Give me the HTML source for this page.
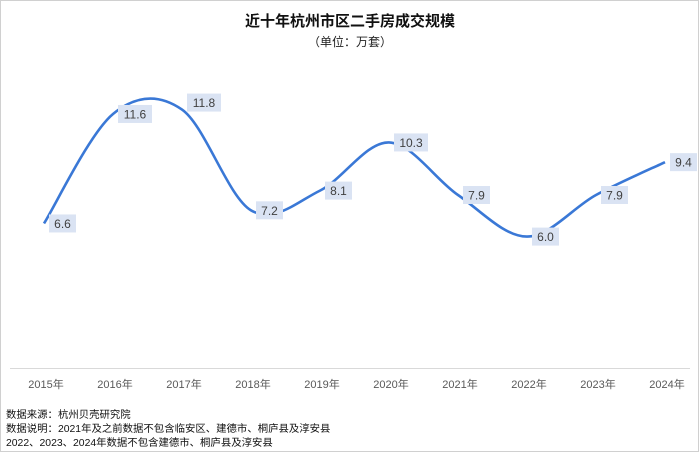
<!DOCTYPE html>
<html><head><meta charset="utf-8"><style>
body{margin:0;background:#fff;font-family:"Liberation Sans","Noto Sans CJK SC",sans-serif}
</style></head><body>
<svg width="700" height="453" viewBox="0 0 700 453" style="display:block">
<rect x="0.5" y="0.5" width="698" height="451" fill="#fff" stroke="#d0d0d0"/>
<text x="350" y="26" text-anchor="middle" font-size="15" font-weight="bold" fill="#111" font-family="Liberation Sans,Noto Sans CJK SC,sans-serif">近十年杭州市区二手房成交规模</text>
<text x="350" y="46" text-anchor="middle" font-size="12" fill="#222" font-family="Liberation Sans,Noto Sans CJK SC,sans-serif">（单位：万套）</text>
<line x1="10" y1="368.5" x2="690" y2="368.5" stroke="#d9d9d9"/>
<g id="xt"></g>
<path id="line" fill="none" stroke="#3a78d6" stroke-width="2.6"/>
<g id="lbl"></g>
<g font-size="10.4" fill="#111" font-family="Liberation Sans,Noto Sans CJK SC,sans-serif">
<text x="6" y="418">数据来源：杭州贝壳研究院</text>
<text x="6" y="432">数据说明：2021年及之前数据不包含临安区、建德市、桐庐县及淳安县</text>
<text x="6" y="446">2022、2023、2024年数据不包含建德市、桐庐县及淳安县</text>
</g>
</svg>
<script>
const categories=["2015年","2016年","2017年","2018年","2019年","2020年","2021年","2022年","2023年","2024年"];
const values=[6.6,11.6,11.8,7.2,8.1,10.3,7.9,6.0,7.9,9.4];
const valueLabels=["6.6","11.6","11.8","7.2","8.1","10.3","7.9","6.0","7.9","9.4"];
const NS="http://www.w3.org/2000/svg";
function xs(i){return 44+i*69;}
function ys(v){return 368-21.9*v;}
const xt=document.getElementById('xt'),lbl=document.getElementById('lbl');
const pts=values.map((v,i)=>[xs(i),ys(v)]);
let d="M"+pts[0][0]+","+pts[0][1];
for(let i=0;i<pts.length-1;i++){
 const p0=pts[Math.max(0,i-1)],p1=pts[i],p2=pts[i+1],p3=pts[Math.min(pts.length-1,i+2)];
 const t=1/6;
 d+=` C${p1[0]+(p2[0]-p0[0])*t},${p1[1]+(p2[1]-p0[1])*t} ${p2[0]-(p3[0]-p1[0])*t},${p2[1]-(p3[1]-p1[1])*t} ${p2[0]},${p2[1]}`;
}
document.getElementById('line').setAttribute('d',d);
categories.forEach((c,i)=>{
 const t=document.createElementNS(NS,'text');
 t.setAttribute('x',xs(i)+2);t.setAttribute('y',388);t.setAttribute('text-anchor','middle');
 t.setAttribute('font-size','11');t.setAttribute('fill','#595959');
 t.setAttribute('font-family','Liberation Sans,Noto Sans CJK SC,sans-serif');
 
 
 t.textContent=c;xt.appendChild(t);
});
values.forEach((v,i)=>{
 const s=valueLabels[i];const w=s.length*7+6;
 const x=xs(i)+5,y=ys(v)-(i==2?7:0);
 const g=document.createElementNS(NS,'g');
 
 
 const r=document.createElementNS(NS,'rect');
 r.setAttribute('x',x);r.setAttribute('y',y-9);r.setAttribute('width',w);r.setAttribute('height',18);r.setAttribute('fill','#dae3f3');
 const t=document.createElementNS(NS,'text');
 t.setAttribute('x',x+w/2);t.setAttribute('y',y+4.5);t.setAttribute('text-anchor','middle');
 t.setAttribute('font-size','12');t.setAttribute('fill','#404040');
 t.textContent=s;g.appendChild(r);g.appendChild(t);lbl.appendChild(g);
});
</script>
</body></html>
